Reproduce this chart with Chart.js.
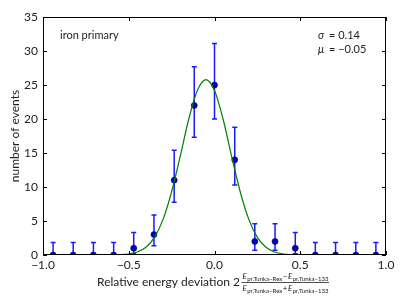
<!DOCTYPE html>
<html>
<head>
<meta charset="utf-8">
<script src="https://cdn.jsdelivr.net/npm/chart.js@4"></script>
<style>
  body { margin: 0; background: #fff; }
  canvas { display: block; }
</style>
</head>
<body>
<canvas id="myChart" width="407" height="305"></canvas>
<script>
// histogram bins (17 bins between -1 and 1)
const binCenters = [-0.941, -0.824, -0.706, -0.588, -0.471, -0.353, -0.235, -0.118, 0.0,
  0.118, 0.235, 0.353, 0.471, 0.588, 0.706, 0.824, 0.941];
const counts = [0, 0, 0, 0, 1, 3, 11, 22, 25, 14, 2, 2, 1, 0, 0, 0, 0];
const errLow = [0, 0, 0, 0, 0.17, 1.37, 7.77, 17.3, 20.0, 10.3, 0.71, 0.71, 0.17, 0, 0, 0, 0];
const errHigh = [1.84, 1.84, 1.84, 1.84, 3.3, 5.9, 15.4, 27.7, 31.1, 18.8, 4.6, 4.6, 3.3,
  1.84, 1.84, 1.84, 1.84];

// gaussian fit curve
const fitX = [-1.0, -0.65, -0.6, -0.55, -0.5, -0.45, -0.4, -0.35, -0.3, -0.25, -0.2, -0.15,
  -0.1, -0.05, 0.0, 0.05, 0.1, 0.15, 0.2, 0.25, 0.3, 0.35, 0.4, 0.45, 0.5, 0.55, 1.0];
const fitY = [0, 0.002, 0.011, 0.044, 0.15, 0.44, 1.13, 2.6, 5.24, 9.3, 14.5, 20.0,
  24.2, 25.8, 24.2, 20.0, 14.5, 9.3, 5.24, 2.6, 1.13, 0.44, 0.15, 0.044, 0.011, 0.002, 0];

const xTicks = [-1.0, -0.5, 0.0, 0.5, 1.0];
const yTicks = [0, 5, 10, 15, 20, 25, 30, 35];

const FONT = "Lato, 'DejaVu Sans', sans-serif";

function minus(s) {
  return String(s).replace("-", "\u2212");
}

// error bars, drawn just before the markers
const errorBars = {
  id: "errorBars",
  beforeDatasetDraw(chart, args) {
    if (args.index !== 1) return;
    const ctx = chart.ctx;
    const xs = chart.scales.x;
    const ys = chart.scales.y;
    ctx.save();
    ctx.strokeStyle = "#1a1aff";
    ctx.lineWidth = 1.5;
    for (let i = 0; i < binCenters.length; i++) {
      const px = xs.getPixelForValue(binCenters[i]);
      const lo = ys.getPixelForValue(errLow[i]);
      const hi = ys.getPixelForValue(errHigh[i]);
      ctx.beginPath();
      ctx.moveTo(px, lo);
      ctx.lineTo(px, hi);
      ctx.moveTo(px - 2.5, hi);
      ctx.lineTo(px + 2.5, hi);
      if (errLow[i] > 0) {
        ctx.moveTo(px - 2.5, lo);
        ctx.lineTo(px + 2.5, lo);
      }
      ctx.stroke();
    }
    ctx.restore();
  },
};

// frame, inward ticks and all the texts
const decorations = {
  id: "decorations",
  afterDraw(chart) {
    const ctx = chart.ctx;
    const a = chart.chartArea;
    const xs = chart.scales.x;
    const ys = chart.scales.y;
    ctx.save();
    ctx.strokeStyle = "#000";
    ctx.lineWidth = 1;
    ctx.strokeRect(a.left + 0.5, a.top + 0.5, a.right - a.left - 1, a.bottom - a.top - 1);
    ctx.beginPath();
    xTicks.forEach((v) => {
      const px = Math.round(xs.getPixelForValue(v)) + 0.5;
      ctx.moveTo(px, a.bottom);
      ctx.lineTo(px, a.bottom - 4);
      ctx.moveTo(px, a.top);
      ctx.lineTo(px, a.top + 4);
    });
    yTicks.forEach((v) => {
      const py = Math.round(ys.getPixelForValue(v)) + 0.5;
      ctx.moveTo(a.left, py);
      ctx.lineTo(a.left + 4, py);
      ctx.moveTo(a.right, py);
      ctx.lineTo(a.right - 4, py);
    });
    ctx.stroke();

    ctx.fillStyle = "#222";
    ctx.textBaseline = "alphabetic";

    // y label
    ctx.save();
    ctx.translate(19, (a.top + a.bottom) / 2);
    ctx.rotate(-Math.PI / 2);
    ctx.textAlign = "center";
    ctx.font = "12px " + FONT;
    ctx.fillText("number of events", 0, 0);
    ctx.restore();

    // x label with fraction
    ctx.textAlign = "left";
    ctx.font = "12px " + FONT;
    const lead = "Relative energy deviation 2";
    let x0 = 97;
    ctx.fillText(lead, x0, 286);
    x0 += ctx.measureText(lead).width + 1.5;

    function frac(y, op) {
      let x = x0 + 1;
      const parts = [
        ["italic 8px ", "E", 0], ["6px ", "pr,Tunka\u2212Rex", 2],
        ["8px ", op, 0],
        ["italic 8px ", "E", 0], ["6px ", "pr,Tunka\u2212133", 2],
      ];
      parts.forEach((p) => {
        ctx.font = p[0] + FONT;
        ctx.fillText(p[1], x, y + p[2]);
        x += ctx.measureText(p[1]).width + 0.5;
      });
      return x;
    }
    const xEnd = frac(279, "\u2212");
    frac(291, "+");
    ctx.fillRect(x0, 282, xEnd - x0, 0.8);

    // annotations
    ctx.font = "11px " + FONT;
    ctx.fillText("iron primary", 60, 39);
    ctx.font = "italic 11px " + FONT;
    ctx.fillText("\u03c3", 318, 39);
    ctx.fillText("\u03bc", 318, 53);
    ctx.font = "11px " + FONT;
    ctx.fillText("= 0.14", 329, 39);
    ctx.fillText("= \u22120.05", 329, 53);
    ctx.restore();
  },
};

new Chart("myChart", {
  type: "scatter",
  data: {
    datasets: [
      {
        type: "line",
        data: fitX.map((x, i) => ({ x: x, y: fitY[i] })),
        borderColor: "#008000",
        borderWidth: 1.2,
        pointRadius: 0,
        tension: 0.4,
        cubicInterpolationMode: "monotone",
        fill: false,
      },
      {
        data: binCenters.map((x, i) => ({ x: x, y: counts[i] })),
        backgroundColor: "#0000d0",
        borderColor: "#000040",
        borderWidth: 0.6,
        pointRadius: 3,
      },
    ],
  },
  options: {
    responsive: false,
    devicePixelRatio: 1,
    animation: false,
    layout: { padding: { top: 17, right: 21, bottom: 0, left: 0 } },
    plugins: { legend: { display: false }, tooltip: { enabled: false } },
    scales: {
      x: {
        type: "linear",
        min: -1,
        max: 1,
        afterFit: (s) => { s.height = 50; },
        afterBuildTicks: (s) => { s.ticks = xTicks.map((v) => ({ value: v })); },
        grid: { display: false, drawTicks: false },
        border: { display: false },
        ticks: {
          autoSkip: false,
          maxRotation: 0,
          padding: 3,
          color: "#222",
          font: { family: FONT, size: 12 },
          callback: (v) => minus(Number(v).toFixed(1)),
        },
      },
      y: {
        min: 0,
        max: 35,
        afterFit: (s) => { s.width = 43; },
        afterBuildTicks: (s) => { s.ticks = yTicks.map((v) => ({ value: v })); },
        grid: { display: false, drawTicks: false },
        border: { display: false },
        ticks: {
          autoSkip: false,
          padding: 5,
          color: "#222",
          font: { family: FONT, size: 12 },
        },
      },
    },
  },
  plugins: [errorBars, decorations],
});
</script>
</body>
</html>
